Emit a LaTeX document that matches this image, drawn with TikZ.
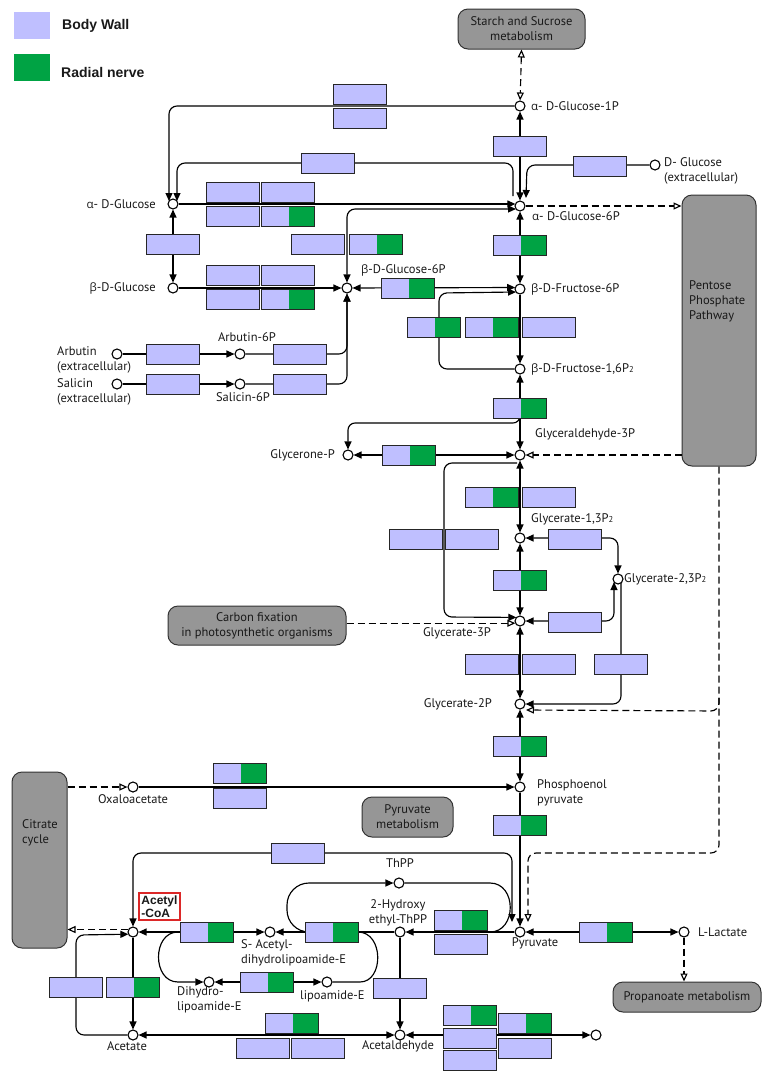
\documentclass[tikz,border=0pt]{standalone}
\usepackage{fontspec}
\setmainfont{PT Sans}
\newfontfamily\grkfont{Open Sans}
\newfontfamily\legfont{Liberation Sans}
\usetikzlibrary{arrows.meta,calc}
\definecolor{lav}{RGB}{191,191,255}
\definecolor{grn}{RGB}{0,163,68}
\definecolor{mapg}{RGB}{150,150,150}
\definecolor{redbox}{RGB}{220,40,40}
\newcommand{\myal}{{\grkfont\fontsize{11.5}{14}\selectfont α}}
\newcommand{\mybe}{{\grkfont\fontsize{11.5}{14}\selectfont β}}
\newcommand{\subtwo}{{\fontsize{8.5}{8}\selectfont 2}}
\begin{document}
\begin{tikzpicture}[x=1pt,y=-1pt,
  every node/.style={font=\fontsize{12.5}{15}\selectfont, text=black!90},
  cpd/.style={circle,draw,fill=white,line width=1.1pt,minimum size=10pt,inner sep=0pt},
  enz/.style={rectangle,draw=black!85,fill=lav,line width=1pt,minimum width=53pt,minimum height=20pt,inner sep=0pt},
  enzs/.style={enz,path picture={\fill[grn] ([xshift=1pt]path picture bounding box.north) rectangle (path picture bounding box.south east);}},
  mapbox/.style={rectangle,rounded corners=10pt,draw=black!80,fill=mapg,line width=1pt,align=center,inner sep=0pt},
  lab/.style={inner sep=0pt,align=left},
  arr/.style={line width=1.15pt,-{Triangle[length=8pt,width=7pt]}},
  arr2/.style={line width=1.15pt,{Triangle[length=8pt,width=7pt]}-{Triangle[length=8pt,width=7pt]}},
  plain/.style={line width=1.15pt},
  dsh/.style={line width=1.15pt,dash pattern=on 7pt off 4pt},
  op/.style={-{Triangle[open,length=8pt,width=7pt,fill=white]}},
  op2/.style={{Triangle[open,length=8pt,width=7pt,fill=white]}-{Triangle[open,length=8pt,width=7pt,fill=white]}}
]
\useasboundingbox (0,0) rectangle (772,1080);
\fill[white] (0,0) rectangle (772,1080);

% legend
\node[fill=lav,minimum width=36pt,minimum height=27pt,inner sep=0pt] (legbw) at (32,25.5) {};
\node[fill=grn,minimum width=36pt,minimum height=27pt,inner sep=0pt] (leggr) at (32,67) {};
\node[anchor=west,inner sep=0pt,font=\legfont\bfseries\fontsize{14}{16}\selectfont] (legbwt) at (62,26) {Body Wall};
\node[anchor=west,inner sep=0pt,font=\legfont\bfseries\fontsize{14}{16}\selectfont] (leggrt) at (61,72) {Radial nerve};

% pathway maps
\node[mapbox,minimum width=127pt,minimum height=40pt] (starch) at (521.5,29) {Starch and Sucrose\\metabolism};
\node[mapbox,minimum width=74pt,minimum height=271pt] (ppp) at (719,330.5) {};
\node[lab,anchor=west] (ppplab) at (689,301) {Pentose\\Phosphate\\Pathway};
\node[mapbox,minimum width=178pt,minimum height=39pt] (carbon) at (257,625.5) {Carbon fixation\\in photosynthetic organisms};
\node[mapbox,minimum width=55pt,minimum height=176pt] (citrate) at (39.5,860) {};
\node[lab,anchor=west] (citlab) at (22,833) {Citrate\\cycle};
\node[mapbox,minimum width=91pt,minimum height=40pt] (pyrmet) at (407.5,817) {Pyruvate\\metabolism};
\node[mapbox,minimum width=148pt,minimum height=30pt] (propan) at (687,997) {Propanoate metabolism};

% compounds
\node[cpd] (g1p) at (520,106) {};
\node[cpd] (aglc) at (173,204) {};
\node[cpd] (g6p) at (520,206) {};
\node[cpd] (dglc) at (655,165) {};
\node[cpd] (bglc) at (173,288) {};
\node[cpd] (bg6p) at (347,288) {};
\node[cpd] (f6p) at (520,289) {};
\node[cpd] (fbp) at (520,369) {};
\node[cpd] (gap) at (520,455) {};
\node[cpd] (dhap) at (348,455) {};
\node[cpd] (arb) at (117,354) {};
\node[cpd] (arb6p) at (240,354) {};
\node[cpd] (sal) at (117,384) {};
\node[cpd] (sal6p) at (240,384) {};
\node[cpd] (bpg13) at (520,538) {};
\node[cpd] (bpg23) at (618,579) {};
\node[cpd] (pg3) at (520,621) {};
\node[cpd] (pg2) at (520,704) {};
\node[cpd] (pep) at (520,787) {};
\node[cpd] (oaa) at (133,787) {};
\node[cpd] (pyr) at (520,932) {};
\node[cpd] (lac) at (684,932) {};
\node[cpd] (thpp) at (399,883) {};
\node[cpd] (hethpp) at (400,932) {};
\node[cpd] (acoa) at (133,932) {};
\node[cpd] (sacet) at (270,932) {};
\node[cpd] (dhlip) at (209,982) {};
\node[cpd] (lip) at (327,982) {};
\node[cpd] (acetate) at (133,1035) {};
\node[cpd] (acald) at (400,1035) {};
\node[cpd] (etoh) at (596,1035) {};

% connectors
\draw[dsh,op2] (starch.south) -- (g1p);
\draw[arr,rounded corners=8pt] (g1p) -- (169,106) -- ($(aglc)+(-4,-3)$);
\draw[arr,rounded corners=8pt] ($(g6p)+(-7,-10)$) -- (513,163) -- (177,163) -- ($(aglc)+(4,-3)$);
\draw[arr2] (g1p) -- (g6p);
\draw[arr,rounded corners=8pt] (dglc) -- (527,165) -- ($(g6p)+(6,-8)$);
\draw[arr] (aglc) -- ($(g6p)+(-4.6,-2)$);
\draw[arr2,rounded corners=8pt] (bg6p) |- ($(g6p)+(-4,3)$);
\draw[arr2] (aglc) -- (bglc);
\draw[arr] (bglc) -- (bg6p);
\draw[arr] (arb) -- (arb6p);
\draw[arr] (sal) -- (sal6p);
\draw[arr,rounded corners=8pt] (arb6p) -| (bg6p);
\draw[arr,rounded corners=8pt] (sal6p) -| (bg6p);
\draw[arr2] (bg6p) -- ($(f6p)+(-4.8,-1.5)$);
\draw[arr,rounded corners=8pt] (fbp) -- (439,369) -- (439,293) -- ($(f6p)+(-4,3)$);
\draw[arr2] (g6p) -- (f6p);
\draw[arr] (f6p) -- (fbp);
\draw[arr2] (fbp) -- (gap);
\draw[arr,rounded corners=7pt] (520,410) -- (520,423) -- (348,423) -- (dhap);
\draw[arr2] (dhap) -- (gap);
\draw[dsh,op] (g6p) -- (g6p -| ppp.west);
\draw[dsh,op] (gap -| ppp.west) -- (gap);
\draw[dsh,op,rounded corners=8pt] (ppp.south) -- (719,853) -- (528,853) -- ($(pyr)+(8,-10)$);
\draw[dsh,op,rounded corners=8pt] (719,698) -- (719,711) -- ($(pg2)+(6,6)$);
\coordinate (cfend) at ($(pg3)+(-4.6,2.2)$);
\draw[dsh,op] (carbon.east |- cfend) -- (cfend);
\draw[arr,rounded corners=8pt] (517,463) -- (444,463) -- (444,617) -- ($(pg3)+(-3.6,-3.6)$);
\draw[arr2] (gap) -- (bpg13);
\draw[arr2] (bpg13) -- (pg3);
\draw[arr2,rounded corners=8pt] (bpg13) -| (bpg23);
\draw[arr2,rounded corners=8pt] (pg3) -- (614,621) -- ($(bpg23)+(-4,3)$);
\draw[arr,rounded corners=8pt] ($(bpg23)+(3,4)$) |- (pg2);
\draw[arr2] (pg3) -- (pg2);
\draw[arr2] (pg2) -- (pep);
\draw[arr] (oaa) -- (pep);
\draw[dsh,op] (citrate.east |- oaa) -- (oaa);
\draw[arr] (pep) -- (pyr);
\draw[arr2] (lac) -- (pyr);
\draw[dsh,op] (lac) -- (lac |- propan.north);
\draw[arr] (pyr) -- (hethpp);
\draw[arr] (hethpp) -- (sacet);
\draw[arr,rounded corners=22pt] (306,932) -- (287,932) -- (287,883) -- (thpp);
\draw[plain] (thpp) -- (490,883) .. controls (517,883) and (517,932) .. (490,932);
\draw[plain] (lip) -- (360,982) .. controls (384,982) and (384,932) .. (358,932);
\draw[arr2] (sacet) -- (acoa);
\draw[arr] (178,932) .. controls (152,932) and (152,982) .. (178,982) -- (dhlip);
\draw[arr2] (dhlip) -- (lip);
\draw[arr2,rounded corners=8pt] (acoa) -- (133,853) -- (512,853) -- ($(pyr)+(-8,-10)$);
\draw[arr,rounded corners=8pt] (acetate) -- (76,1035) -- (76,935) -- ($(acoa)+(-4.6,2.2)$);
\coordinate (acw) at ($(acoa)+(-4.8,-2.5)$);
\draw[dsh,op] (acw) -- (citrate.east |- acw);
\draw[arr] (acoa) -- (acetate);
\draw[arr2] (acald) -- (acetate);
\draw[arr] (hethpp) -- (acald);
\draw[arr2] (acald) -- (etoh);

% enzymes
\foreach \n/\x/\y in {1/359.5/94, 2/359.5/118, 3/328/163, 4/233/192, 5/288/192, 6/233/216,
  8/173/244, 9/318/244, 11/520/146, 12/600/166, 14/233/275, 15/288/275, 16/233/299,
  18/173/354, 19/300/354, 20/173/384, 21/300/384, 25/549/327, 29/549/497, 30/416/539,
  31/472/539, 33/492/664, 34/549/664, 35/575/539, 36/575/622, 37/621/664, 41/461/944,
  43/400/988, 45/470/1038, 46/470/1060, 48/525/1048, 50/240/798, 51/298/853, 54/76/987,
  58/263/1048, 59/318/1048}
  \node[enz] (e\n) at (\x,\y) {};
\foreach \n/\x/\y in {7/288/216, 10/376/244, 13/520/245, 17/288/299, 22/408/288, 23/434/327,
  24/492/327, 26/520/408, 27/409/455, 28/492/497, 32/520/580, 38/520/746, 39/520/825,
  40/461/920, 42/606/932, 44/470/1015, 47/525/1023, 49/240/773, 52/207/932, 53/332/932,
  55/133/987, 56/267/982, 57/292/1023}
  \node[enzs] (e\n) at (\x,\y) {};

% compound labels
\node[lab,anchor=west] (lg1p) at (531,106) {\myal- D-Glucose-1P};
\node[lab,anchor=east] (laglc) at (156,204) {\myal- D-Glucose};
\node[lab,anchor=west] (ldglc) at (664,171) {D- Glucose\\(extracellular)};
\node[lab,anchor=west] (lg6p) at (532,216) {\myal- D-Glucose-6P};
\node[lab,anchor=east] (lbglc) at (156,288) {\mybe-D-Glucose};
\node[lab,anchor=west] (lbg6p) at (361,270) {\mybe-D-Glucose-6P};
\node[lab] (larb6p) at (247,337) {Arbutin-6P};
\node[lab,anchor=west] (larb) at (57,360) {Arbutin\\(extracellular)};
\node[lab,anchor=west] (lsal) at (57,392) {Salicin\\(extracellular)};
\node[lab] (lsal6p) at (243,397) {Salicin-6P};
\node[lab,anchor=west] (lf6p) at (531,289) {\mybe-D-Fructose-6P};
\node[lab,anchor=west] (lfbp) at (531,369) {\mybe-D-Fructose-1,6P\subtwo};
\node[lab,anchor=west] (lgap) at (535,434) {Glyceraldehyde-3P};
\node[lab,anchor=east] (ldhap) at (335,455) {Glycerone-P};
\node[lab,anchor=west] (lbpg13) at (531,519) {Glycerate-1,3P\subtwo};
\node[lab,anchor=west] (lbpg23) at (624,579) {Glycerate-2,3P\subtwo};
\node[lab] (lpg3) at (457,633) {Glycerate-3P};
\node[lab,anchor=east] (lpg2) at (492,704) {Glycerate-2P};
\node[lab,anchor=west] (lpep) at (537,793) {Phosphoenol\\pyruvate};
\node[lab] (loaa) at (133,799) {Oxaloacetate};
\node[lab] (lpyr) at (535,943) {Pyruvate};
\node[lab,anchor=west] (llac) at (698,932) {L-Lactate};
\node[lab] (lthpp) at (400,863) {ThPP};
\node[lab,align=center] (lhe) at (398,913) {2-Hydroxy\\ethyl-ThPP};
\node[lab,anchor=west] (lsacet) at (241,953) {S- Acetyl-\\dihydrolipoamide-E};
\node[lab,anchor=west] (ldhlip) at (177,1000) {Dihydro-\\lipoamide-E};
\node[lab,anchor=west] (llip) at (300,996) {lipoamide-E};
\node[lab] (lacetate) at (127,1046) {Acetate};
\node[lab] (lacald) at (398,1046) {Acetaldehyde};
\node[draw=redbox,line width=1.2pt,fill=white,minimum width=41pt,minimum height=27pt,inner sep=0pt,align=left,
  font=\legfont\bfseries\fontsize{12}{12.5}\selectfont] (lacoa) at (159.5,906.5) {Acetyl\\-CoA};
\end{tikzpicture}
\end{document}
